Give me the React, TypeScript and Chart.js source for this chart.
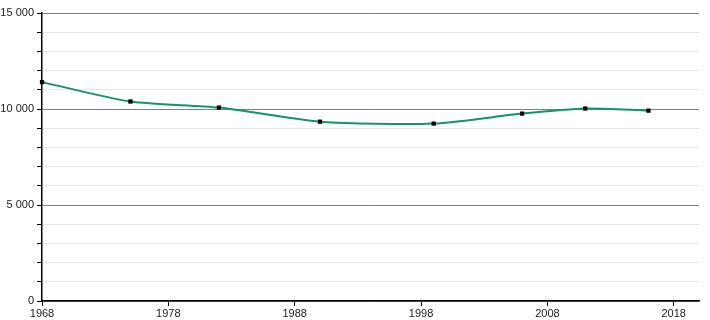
import React, { useEffect, useRef } from "react";
import { Chart, registerables } from "chart.js";

Chart.register(...registerables);

const years = [1968, 1975, 1982, 1990, 1999, 2006, 2011, 2016];
const population = [11400, 10390, 10075, 9340, 9240, 9760, 10025, 9915];
const xTicks = [1968, 1978, 1988, 1998, 2008, 2018];
const yMin = 0;
const yMax = 15000;
const yStep = 1000;
const yLabelStep = 5000;

function fmt(v: number): string {
  return String(v).replace(/\B(?=(\d{3})+(?!\d))/g, " ");
}

export default function App() {
  const ref = useRef<HTMLCanvasElement | null>(null);
  useEffect(() => {
    if (!ref.current) return;
    const chart = new Chart(ref.current, {
      type: "line",
      data: {
        datasets: [
          {
            data: years.map((y, i) => ({ x: y, y: population[i] })),
            borderColor: "#13936e",
            borderWidth: 2,
            tension: 0.25,
            pointStyle: "rect",
            pointRadius: 3,
            pointBackgroundColor: "#000",
            pointBorderColor: "#000",
            pointBorderWidth: 0,
            clip: false,
          } as any,
        ],
      },
      options: {
        animation: false,
        responsive: false,
        maintainAspectRatio: false,
        layout: { padding: { top: 13, right: 11, left: 0, bottom: 0 } },
        plugins: { legend: { display: false }, tooltip: { enabled: false } },
        scales: {
          x: {
            type: "linear",
            min: 1968,
            max: 2020,
            afterBuildTicks: (s: any) => {
              s.ticks = xTicks.map((v) => ({ value: v }));
            },
            afterFit: (s: any) => {
              s.height = 19;
            },
            border: { color: "#000", width: 1.5 },
            grid: { drawOnChartArea: false, drawTicks: true, tickLength: 5, tickColor: "#000" },
            ticks: {
              color: "#222",
              font: { family: "'Liberation Sans', Arial, sans-serif", size: 11 },
              padding: 1,
              maxRotation: 0,
              autoSkip: false,
              callback: (v: any) => String(v),
            },
          },
          y: {
            type: "linear",
            min: yMin,
            max: yMax,
            afterFit: (s: any) => {
              s.width = 42;
            },
            border: { color: "#000", width: 1.5 },
            grid: {
              color: (c: any) => (c.tick && c.tick.value % yLabelStep === 0 ? "#808080" : "#e6e6e6"),
              lineWidth: 1,
              drawTicks: true,
              tickLength: 5,
              tickColor: "#000",
            },
            ticks: {
              stepSize: yStep,
              color: "#222",
              font: { family: "'Liberation Sans', Arial, sans-serif", size: 11 },
              padding: 3,
              autoSkip: false,
              callback: (v: any) => (Number(v) % yLabelStep === 0 ? fmt(Number(v)) : ""),
            },
          },
        },
      },
    });
    return () => chart.destroy();
  }, []);
  return (
    <div style={{ position: "absolute", left: 0, top: 0, width: 710, height: 320, background: "#fff" }}>
      <canvas ref={ref} width={710} height={320} style={{ width: 710, height: 320 }} />
    </div>
  );
}
